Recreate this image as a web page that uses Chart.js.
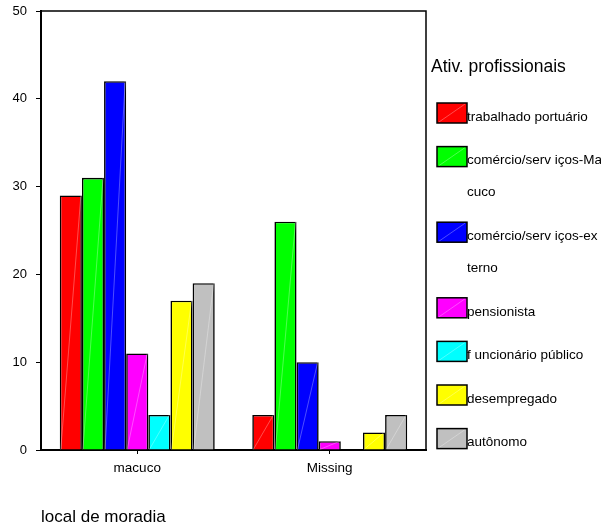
<!DOCTYPE html>
<html>
<head>
<meta charset="utf-8">
<script src="https://cdn.jsdelivr.net/npm/chart.js@4"></script>
<style>
  html, body { margin: 0; padding: 0; background: #fff; }
  #wrap { width: 601px; height: 524px; }
</style>
</head>
<body>
<div id="wrap"><canvas id="chart" width="601" height="524"></canvas></div>
<script>
  // Categories on the x axis
  const categories = ['macuco', 'Missing'];

  // One series per professional activity (legend lines as shown in the picture)
  const seriesLabels = [
    ['trabalhado portuário'],
    ['comércio/serv iços-Ma', 'cuco'],
    ['comércio/serv iços-ex', 'terno'],
    ['pensionista'],
    ['f uncionário público'],
    ['desempregado'],
    ['autônomo']
  ];
  const seriesColors = ['#ff0000', '#00ff00', '#0000ff', '#ff00ff', '#00ffff', '#ffff00', '#c0c0c0'];

  // Counts per series: [macuco, Missing]
  const trabalhadoPortuario = [29, 4];
  const comercioMacuco = [31, 26];
  const comercioExterno = [42, 10];
  const pensionista = [11, 1];
  const funcionarioPublico = [4, 0];
  const desempregado = [17, 2];
  const autonomo = [19, 4];
  const seriesValues = [trabalhadoPortuario, comercioMacuco, comercioExterno, pensionista,
    funcionarioPublico, desempregado, autonomo];

  const yTicks = [0, 10, 20, 30, 40, 50];
  const legendTitle = 'Ativ. profissionais';
  const xTitle = 'local de moradia';

  const FONT = '"Liberation Sans", Arial, sans-serif';

  // Faint diagonal highlight drawn across every bar
  const diagonalPlugin = {
    id: 'diagonal',
    afterDatasetsDraw(chart) {
      const ctx = chart.ctx;
      ctx.save();
      ctx.strokeStyle = 'rgba(255,255,255,0.3)';
      ctx.lineWidth = 1;
      chart.data.datasets.forEach((ds, i) => {
        chart.getDatasetMeta(i).data.forEach(bar => {
          if (Math.abs(bar.base - bar.y) < 2) return;
          ctx.beginPath();
          ctx.moveTo(bar.x - bar.width / 2 + 1, bar.base);
          ctx.lineTo(bar.x + bar.width / 2 - 1, bar.y);
          ctx.stroke();
        });
      });
      ctx.restore();
    }
  };

  // Box around the plot area plus the custom legend on the right
  const framePlugin = {
    id: 'frame',
    afterDraw(chart) {
      const ctx = chart.ctx;
      const a = chart.chartArea;
      ctx.save();
      ctx.strokeStyle = '#000';
      ctx.lineWidth = 1.5;
      ctx.beginPath();
      ctx.moveTo(a.left, a.bottom);
      ctx.lineTo(a.left, a.top);
      ctx.lineTo(a.right, a.top);
      ctx.lineTo(a.right, a.bottom);
      ctx.stroke();

      // legend
      const lx = a.right + 11;
      ctx.fillStyle = '#000';
      ctx.font = '17.5px ' + FONT;
      ctx.textAlign = 'left';
      ctx.textBaseline = 'middle';
      ctx.fillText(legendTitle, a.right + 5, 67);

      ctx.font = '13.5px ' + FONT;
      let top = 103;
      seriesLabels.forEach((lines, i) => {
        ctx.fillStyle = seriesColors[i];
        ctx.fillRect(lx, top, 30, 20);
        ctx.strokeStyle = 'rgba(255,255,255,0.3)';
        ctx.lineWidth = 1;
        ctx.beginPath();
        ctx.moveTo(lx + 2, top + 19);
        ctx.lineTo(lx + 28, top + 1);
        ctx.stroke();
        ctx.strokeStyle = '#000';
        ctx.lineWidth = 1.5;
        ctx.strokeRect(lx, top, 30, 20);
        ctx.fillStyle = '#000';
        lines.forEach((t, j) => {
          ctx.fillText(t, lx + 30, top + 14 + j * 32);
        });
        top += 43.6 + 32 * (lines.length - 1);
      });
      ctx.restore();
    }
  };

  new Chart(document.getElementById('chart'), {
    type: 'bar',
    data: {
      labels: categories,
      datasets: seriesValues.map((vals, i) => ({
        label: seriesLabels[i].join(''),
        data: vals,
        backgroundColor: seriesColors[i],
        borderColor: '#000',
        borderWidth: 1.6,
        barPercentage: 1,
        categoryPercentage: 0.805
      }))
    },
    options: {
      responsive: false,
      animation: false,
      layout: { padding: { top: 11, right: 175, left: 0, bottom: 0 } },
      plugins: {
        legend: { display: false },
        tooltip: { enabled: false }
      },
      scales: {
        x: {
          afterFit(scale) { scale.height = 74; },
          grid: { offset: false, drawOnChartArea: false, drawTicks: true, tickLength: 4, color: '#000' },
          border: { display: true, color: '#000', width: 2 },
          ticks: { color: '#000', padding: 6, font: { family: FONT, size: 13.5 } },
          title: {
            display: true,
            text: xTitle,
            align: 'start',
            color: '#000',
            padding: 0,
            font: { family: FONT, size: 17, lineHeight: 0.8 }
          }
        },
        y: {
          min: 0,
          max: 50,
          afterFit(scale) {
            scale.width = 41;
            scale.paddingTop = 0;
            scale.paddingBottom = 0;
          },
          afterBuildTicks(scale) { scale.ticks = yTicks.map(v => ({ value: v })); },
          grid: { drawOnChartArea: false, drawTicks: true, tickLength: 5, color: '#000' },
          border: { display: true, color: '#000', width: 2 },
          ticks: { color: '#000', padding: 9, font: { family: FONT, size: 13 } }
        }
      }
    },
    plugins: [diagonalPlugin, framePlugin]
  });
</script>
</body>
</html>
